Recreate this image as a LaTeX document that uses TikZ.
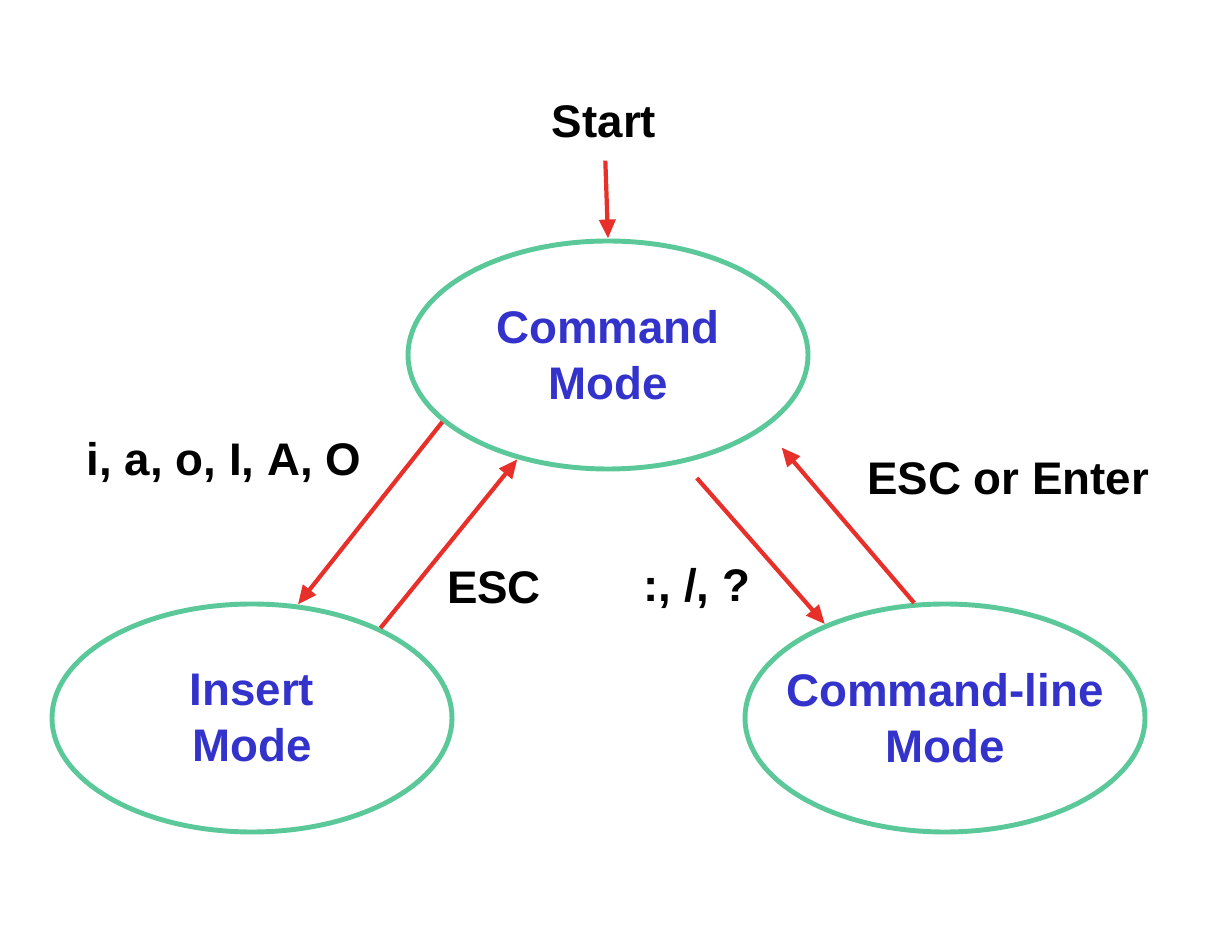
\documentclass[tikz,border=0pt]{standalone}
\usepackage{fontspec}
\setmainfont{Liberation Sans}
\usetikzlibrary{arrows.meta,shapes.geometric}
\definecolor{modegreen}{HTML}{5BC89A}
\definecolor{modeblue}{HTML}{3333CC}
\definecolor{arrowred}{HTML}{E8302A}
\begin{document}
\begin{tikzpicture}[x=0.1mm, y=-0.1mm, line join=round,
    mode/.style={ellipse, draw=modegreen, line width=1.4pt, minimum width=4cm, minimum height=2.28cm,
      text=modeblue, font=\fontsize{13}{16}\selectfont\bfseries, align=center, inner sep=0pt},
    key/.style={font=\fontsize{13}{16}\selectfont\bfseries, text=black},
    trans/.style={draw=arrowred, line width=1.2pt, -{Triangle[length=1.9mm, width=1.6mm]}}]
  \useasboundingbox (0,0) rectangle (1220,950);
  \node[mode] (cmd) at (608,355) {Command\\Mode};
  \node[mode] (ins) at (252,718) {Insert\\Mode};
  \node[mode, inner xsep=-2mm] (cline) at (945,718) {Command-line\\Mode};
  \node[key] (start) at (604,122) {Start};
  \node[key] (ikeys) at (224,462) {i, a, o, I, A, O};
  \node[key] (esc) at (494,588) {ESC};
  \node[key] (ckeys) at (697,588) {:, /, ?};
  \node[key] (escent) at (1008,479) {ESC or Enter};
  \draw[trans, shorten <=1mm] (start) -- (cmd.north);
  \draw[trans] (cmd.202) -- (ins.68);
  \draw[trans] (ins.35) -- (cmd.229);
  \draw[trans, shorten <=2mm] (cmd.305) -- (cline.142);
  \draw[trans, shorten >=2.5mm] (cline.105) -- (cmd.335);
\end{tikzpicture}
\end{document}
